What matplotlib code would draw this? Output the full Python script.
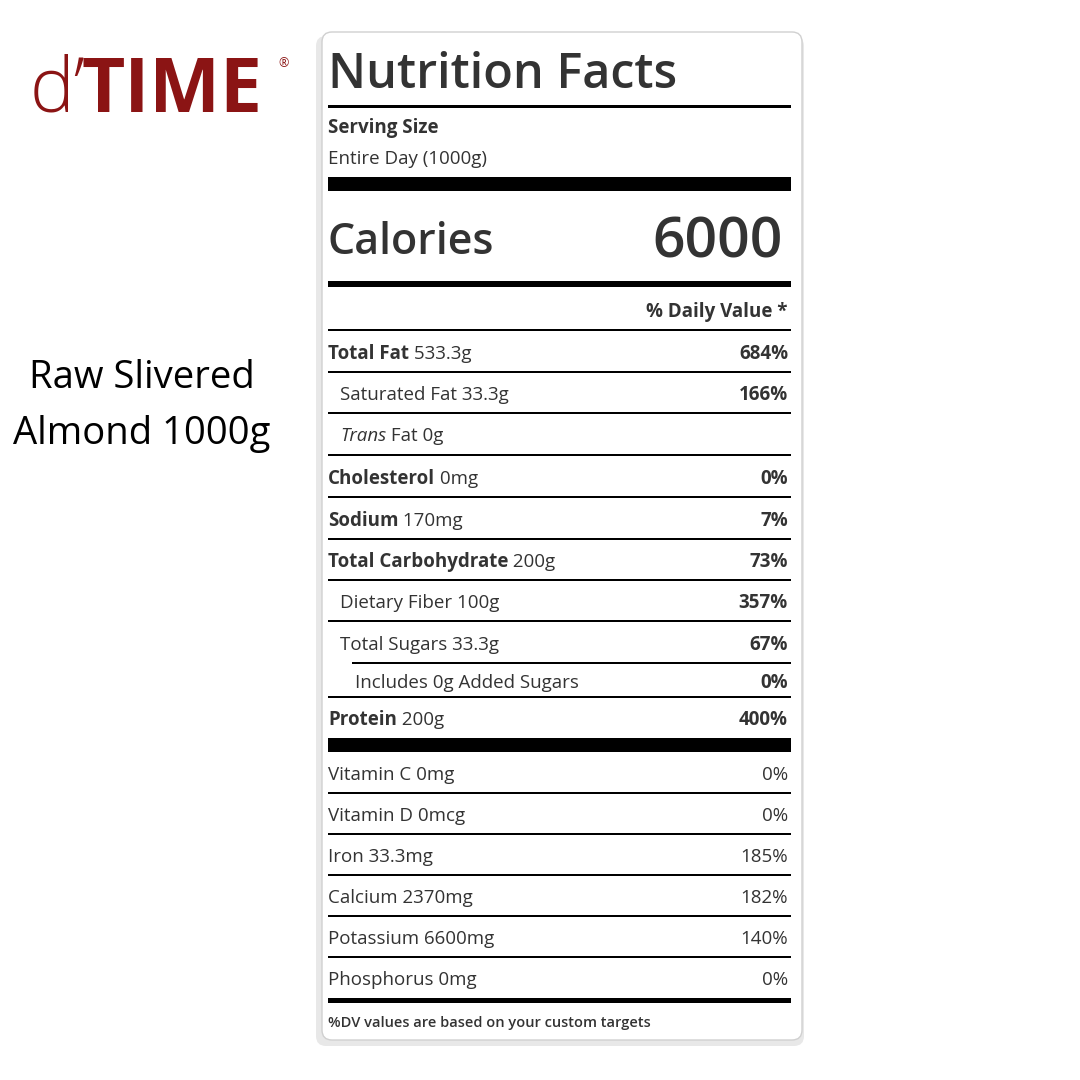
import matplotlib.pyplot as plt
from matplotlib.patches import FancyBboxPatch, Rectangle

plt.rcParams['font.family'] = ['Open Sans', 'DejaVu Sans']

serving = "Entire Day (1000g)"
calories = "6000"
# (bold part, rest, dv, indent level)
rows = [
    ("Total Fat", " 533.3g", "684%", 0),
    ("", "Saturated Fat 33.3g", "166%", 1),
    ("", "Trans Fat 0g", "", 1),
    ("Cholesterol", " 0mg", "0%", 0),
    ("Sodium", " 170mg", "7%", 0),
    ("Total Carbohydrate", " 200g", "73%", 0),
    ("", "Dietary Fiber 100g", "357%", 1),
    ("", "Total Sugars 33.3g", "67%", 1),
    ("", "Includes 0g Added Sugars", "0%", 2),
    ("Protein", " 200g", "400%", 0),
]
row_y = [354, 395, 436, 479, 521, 562, 603, 645, 683, 720]
vitamins = ["Vitamin C 0mg", "Vitamin D 0mcg", "Iron 33.3mg", "Calcium 2370mg",
            "Potassium 6600mg", "Phosphorus 0mg"]
vit_dv = ["0%", "0%", "185%", "182%", "140%", "0%"]
vit_y = [775, 816, 857, 898, 939, 980]

fig = plt.figure(figsize=(10.8, 10.8), dpi=100)
ax = fig.add_axes([0, 0, 1, 1])
ax.set_xlim(0, 1080)
ax.set_ylim(1080, 0)
ax.axis('off')

txt = '#333333'
# label box with shadow
ax.add_patch(FancyBboxPatch((316, 36), 488, 1010, boxstyle="round,pad=0,rounding_size=10",
                            fc='#e8e8e8', ec='none'))
ax.add_patch(FancyBboxPatch((322, 32), 480, 1008, boxstyle="round,pad=0,rounding_size=10",
                            fc='white', ec='#d0d0d0', lw=1))

L, R = 328, 791

def hline(y, lw, x0=L):
    ax.add_patch(Rectangle((x0, y - lw / 2), R - x0, lw, fc='black', ec='none'))

ax.text(L, 76, "Nutrition Facts", fontsize=35, fontweight='semibold', color=txt, va='center')
hline(106, 3)
ax.text(L, 128, "Serving Size", fontsize=13.5, fontweight='bold', color=txt, va='center')
ax.text(L, 159, serving, fontsize=13.5, color=txt, va='center')
hline(184, 14)
ax.text(L, 243, "Calories", fontsize=31, fontweight='semibold', color=txt, va='center')
ax.text(783, 243, calories, fontsize=41, fontweight='semibold', color=txt, va='center', ha='right')
hline(284, 6)
ax.text(788, 312, "% Daily Value *", fontsize=13.5, fontweight='bold', color=txt, va='center', ha='right')
hline(330, 2)

indents = [L, 340, 355]
for (b, rest, dv, ind), y in zip(rows, row_y):
    x = indents[ind]
    if b:
        t = ax.text(x, y, b, fontsize=13.5, fontweight='bold', color=txt, va='center')
        ax.annotate(rest, xycoords=t, xy=(1, 0.5), va='center', fontsize=13.5, color=txt)
    elif rest.startswith("Trans"):
        t = ax.text(x, y, "Trans", fontsize=13.5, style='italic', color=txt, va='center')
        ax.annotate(rest[5:], xycoords=t, xy=(1, 0.5), va='center', fontsize=13.5, color=txt)
    else:
        ax.text(x, y, rest, fontsize=13.5, color=txt, va='center')
    ax.text(788, y, dv, fontsize=13.5, fontweight='bold', color=txt, va='center', ha='right')

line_y = [372, 413, 455, 497, 539, 580, 621, 663, 697]
line_x = [L, L, L, L, L, L, L, 352, L]
for y, x0 in zip(line_y, line_x):
    hline(y, 1.5, x0)
hline(745, 14)

for name, dv, y in zip(vitamins, vit_dv, vit_y):
    ax.text(L, y, name, fontsize=13.5, color=txt, va='center')
    ax.text(788, y, dv, fontsize=13.5, color=txt, va='center', ha='right')
for y in vit_y[:-1]:
    hline(y + 18, 1.5)
hline(1000, 5)
ax.text(L, 1023, "%DV values are based on your custom targets", fontsize=10.5,
        fontweight='semibold', color=txt, va='center')

# logo
red = '#8b1414'
t = ax.text(30, 92, "d\u2019", fontsize=54, color=red, va='center', fontweight='light')
ax.annotate("TIME", xycoords=t, xy=(0.92, 0.5), va='center', fontsize=54, color=red,
            fontweight='bold')
ax.text(278, 64, "\u00ae", fontsize=9, color=red, va='center')

ax.text(142, 378, "Raw Slivered", fontsize=27.5, color='black', ha='center', va='center')
ax.text(142, 434, "Almond 1000g", fontsize=27.5, color='black', ha='center', va='center')

fig.savefig('out.png', dpi=100, facecolor='white')
